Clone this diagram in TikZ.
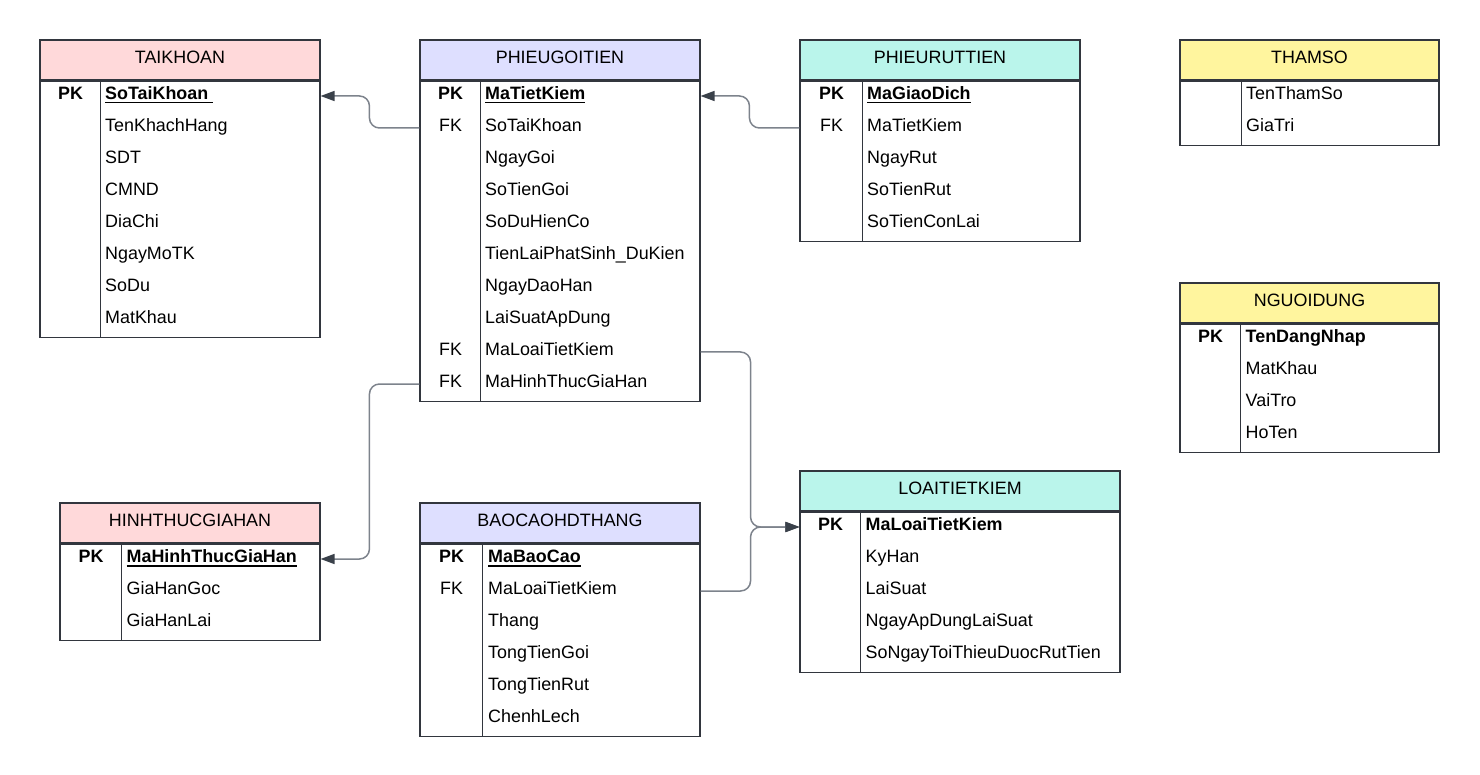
\documentclass[tikz,border=0pt]{standalone}
\usepackage{fontspec}
\setmainfont{Liberation Sans}
\usetikzlibrary{arrows.meta}

\definecolor{hdrpink}{RGB}{255,217,218}
\definecolor{hdrlilac}{RGB}{222,223,255}
\definecolor{hdrteal}{RGB}{186,245,235}
\definecolor{hdryellow}{RGB}{255,245,158}
\definecolor{bordergray}{RGB}{50,54,62}
\definecolor{linkgray}{RGB}{125,131,140}
\definecolor{arrowdark}{RGB}{58,65,74}

% bold + underlined primary key
\newcommand{\keyfield}[1]{\setbox0\hbox{\textbf{#1}}\rlap{\rule[-4pt]{\wd0}{1.6pt}}\box0}

\tikzset{
  tblline/.style={draw=bordergray, line width=1.1pt},
  hdr/.style={tblline, inner sep=0pt, minimum height=40pt, text height=13pt, text depth=6pt},
  tblbody/.style={tblline, fill=white, inner sep=0pt},
  keycell/.style={inner sep=0pt, text height=13pt, text depth=6pt},
  fieldcell/.style={keycell, anchor=west},
  fk/.style={draw=linkgray, line width=1.5pt, rounded corners=10pt,
    -{Triangle[length=14pt, width=10pt, color=arrowdark]}}
}

\begin{document}
\begin{tikzpicture}[x=1pt, y=-1pt, font=\fontsize{17.9}{21}\selectfont]
	\useasboundingbox (0,0) rectangle (1480,775);

	% TAIKHOAN
	\node[hdr, fill=hdrpink, minimum width=280] (tk) at (180,60) {TAIKHOAN};
	\node[tblbody, minimum width=280, minimum height=256, anchor=north] (tk-b) at (tk.south) {};
	\draw[tblline] ([xshift=61pt]tk-b.north west) -- ([xshift=61pt]tk-b.south west);
	\foreach \k/\f [count=\i] in {\textbf{PK}/\keyfield{SoTaiKhoan\ }, /TenKhachHang, /SDT, /CMND,
			/DiaChi, /NgayMoTK, /SoDu, /MatKhau} {
		\node[keycell] (tk-k\i) at ({70.5},{64+32*\i}) {\k};
		\node[fieldcell] (tk-f\i) at ({105},{64+32*\i}) {\f};
	}

	% PHIEUGOITIEN
	\node[hdr, fill=hdrlilac, minimum width=280] (pg) at (560,60) {PHIEUGOITIEN};
	\node[tblbody, minimum width=280, minimum height=320, anchor=north] (pg-b) at (pg.south) {};
	\draw[tblline] ([xshift=61pt]pg-b.north west) -- ([xshift=61pt]pg-b.south west);
	\foreach \k/\f [count=\i] in {\textbf{PK}/\keyfield{MaTietKiem}, FK/SoTaiKhoan, /NgayGoi, /SoTienGoi,
			/SoDuHienCo, /TienLaiPhatSinh\_DuKien, /NgayDaoHan, /LaiSuatApDung,
			FK/MaLoaiTietKiem, FK/MaHinhThucGiaHan} {
		\node[keycell] (pg-k\i) at ({450.5},{64+32*\i}) {\k};
		\node[fieldcell] (pg-f\i) at ({485},{64+32*\i}) {\f};
	}

	% PHIEURUTTIEN
	\node[hdr, fill=hdrteal, minimum width=280] (pr) at (940,60) {PHIEURUTTIEN};
	\node[tblbody, minimum width=280, minimum height=160, anchor=north] (pr-b) at (pr.south) {};
	\draw[tblline] ([xshift=63pt]pr-b.north west) -- ([xshift=63pt]pr-b.south west);
	\foreach \k/\f [count=\i] in {\textbf{PK}/\keyfield{MaGiaoDich}, FK/MaTietKiem, /NgayRut,
			/SoTienRut, /SoTienConLai} {
		\node[keycell] (pr-k\i) at ({831.5},{64+32*\i}) {\k};
		\node[fieldcell] (pr-f\i) at ({867},{64+32*\i}) {\f};
	}

	% THAMSO
	\node[hdr, fill=hdryellow, minimum width=259] (ts) at (1309.5,60) {THAMSO};
	\node[tblbody, minimum width=259, minimum height=64, anchor=north] (ts-b) at (ts.south) {};
	\draw[tblline] ([xshift=62pt]ts-b.north west) -- ([xshift=62pt]ts-b.south west);
	\foreach \f [count=\i] in {TenThamSo, GiaTri}
		\node[fieldcell] (ts-f\i) at ({1246},{64+32*\i}) {\f};

	% NGUOIDUNG
	\node[hdr, fill=hdryellow, minimum width=259] (nd) at (1309.5,303) {NGUOIDUNG};
	\node[tblbody, minimum width=259, minimum height=128, anchor=north] (nd-b) at (nd.south) {};
	\draw[tblline] ([xshift=61pt]nd-b.north west) -- ([xshift=61pt]nd-b.south west);
	\foreach \k/\f [count=\i] in {\textbf{PK}/\textbf{TenDangNhap}, /MatKhau, /VaiTro, /HoTen} {
		\node[keycell] (nd-k\i) at ({1210.5},{307+32*\i}) {\k};
		\node[fieldcell] (nd-f\i) at ({1245.5},{307+32*\i}) {\f};
	}

	% HINHTHUCGIAHAN
	\node[hdr, fill=hdrpink, minimum width=260] (hg) at (190,523) {HINHTHUCGIAHAN};
	\node[tblbody, minimum width=260, minimum height=96, anchor=north] (hg-b) at (hg.south) {};
	\draw[tblline] ([xshift=62pt]hg-b.north west) -- ([xshift=62pt]hg-b.south west);
	\foreach \k/\f [count=\i] in {\textbf{PK}/\keyfield{MaHinhThucGiaHan}, /GiaHanGoc, /GiaHanLai} {
		\node[keycell] (hg-k\i) at ({91},{527+32*\i}) {\k};
		\node[fieldcell] (hg-f\i) at ({126.5},{527+32*\i}) {\f};
	}

	% BAOCAOHDTHANG
	\node[hdr, fill=hdrlilac, minimum width=280] (bc) at (560,523) {BAOCAOHDTHANG};
	\node[tblbody, minimum width=280, minimum height=192, anchor=north] (bc-b) at (bc.south) {};
	\draw[tblline] ([xshift=63pt]bc-b.north west) -- ([xshift=63pt]bc-b.south west);
	\foreach \k/\f [count=\i] in {\textbf{PK}/\keyfield{MaBaoCao}, FK/MaLoaiTietKiem, /Thang,
			/TongTienGoi, /TongTienRut, /ChenhLech} {
		\node[keycell] (bc-k\i) at ({451.5},{527+32*\i}) {\k};
		\node[fieldcell] (bc-f\i) at ({488},{527+32*\i}) {\f};
	}

	% LOAITIETKIEM
	\node[hdr, fill=hdrteal, minimum width=320] (lt) at (960,491) {LOAITIETKIEM};
	\node[tblbody, minimum width=320, minimum height=160, anchor=north] (lt-b) at (lt.south) {};
	\draw[tblline] ([xshift=61pt]lt-b.north west) -- ([xshift=61pt]lt-b.south west);
	\foreach \k/\f [count=\i] in {\textbf{PK}/\textbf{MaLoaiTietKiem}, /KyHan, /LaiSuat,
			/NgayApDungLaiSuat, /SoNgayToiThieuDuocRutTien} {
		\node[keycell] (lt-k\i) at ({830.5},{495+32*\i}) {\k};
		\node[fieldcell] (lt-f\i) at ({865.5},{495+32*\i}) {\f};
	}

	% foreign keys
	\draw[fk] (pg-b.west |- pg-k2) -- ++(-50,0) |- (tk-b.east |- tk-k1);
	\draw[fk] (pr-b.west |- pr-k2) -- ++(-50,0) |- (pg-b.east |- pg-k1);
	\draw[fk] (pg-b.west |- pg-k10) -- ++(-50,0) |- (hg-b.east |- hg-k1);
	\draw[fk] (pg-b.east |- pg-k9) -- ++(50,0) |- (lt-b.west |- lt-k1);
	\draw[fk] (bc-b.east |- bc-k2) -- ++(50,0) |- (lt-b.west |- lt-k1);
\end{tikzpicture}
\end{document}
